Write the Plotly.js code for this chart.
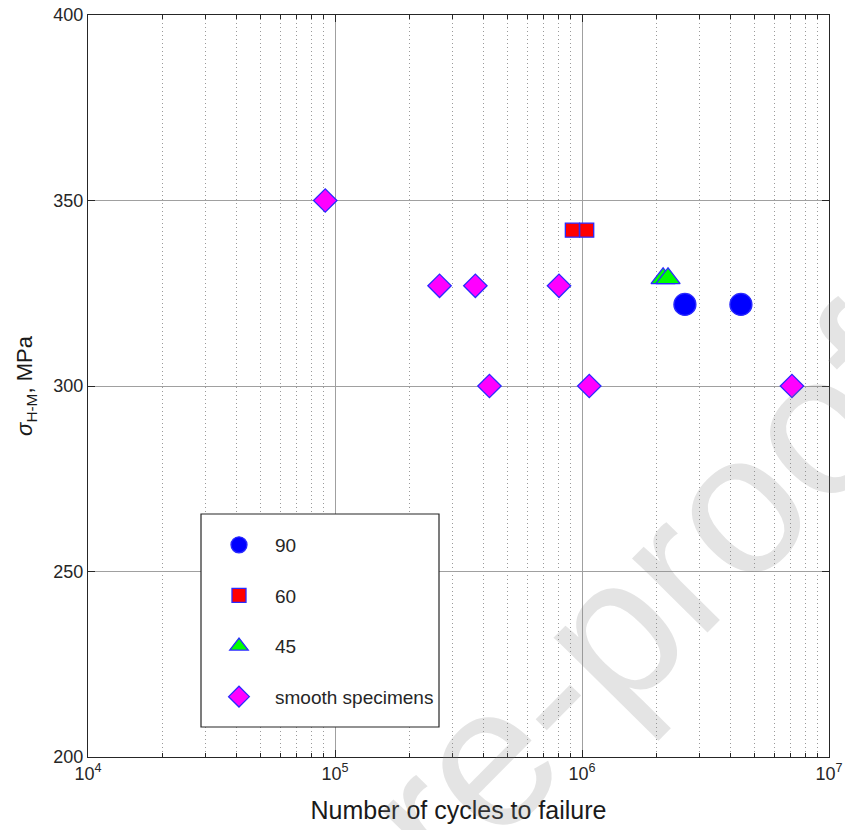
<!DOCTYPE html>
<html>
<head>
<meta charset="utf-8">
<script src="https://cdn.plot.ly/plotly-3.0.1.min.js"></script>
<style>html,body{margin:0;padding:0;background:#fff;}#chart{width:845px;height:830px;}</style>
</head>
<body>
<div id="chart"></div>
<script>
// ---- data ----
const cycles90 = [2.61e6, 4.40e6];
const stress90 = [322, 322];
const cycles60 = [9.14e5, 1.045e6];
const stress60 = [342, 342];
const cycles45 = [2.13e6, 2.23e6];
const stress45 = [329, 329];
const cyclesSmooth = [9.13e4, 2.65e5, 3.70e5, 8.07e5, 4.22e5, 1.07e6, 7.08e6];
const stressSmooth = [350, 327, 327, 327, 300, 300, 300];
const seriesNames = ['90', '60', '45', 'smooth specimens'];
const xTickVals = [1e4, 1e5, 1e6, 1e7];
const xTickText = ['10<sup>4</sup>', '10<sup>5</sup>', '10<sup>6</sup>', '10<sup>7</sup>'];
const yTicks = [200, 250, 300, 350, 400];

const edge = {color: '#2a2aff', width: 1.3};
const traces = [
  {x: cycles90, y: stress90, name: seriesNames[0], legendgroup: 'a', mode: 'markers', type: 'scatter',
   marker: {symbol: 'circle', size: 22, color: '#0000ff', line: edge}},
  {x: cycles60, y: stress60, name: seriesNames[1], legendgroup: 'b', mode: 'markers', type: 'scatter',
   marker: {symbol: 'square', size: 14, color: '#ff0000', line: edge}},
  {x: cycles45, y: stress45, name: seriesNames[2], legendgroup: 'c', mode: 'markers', type: 'scatter',
   marker: {symbol: 'triangle-up', size: 21, color: '#00ff00', line: edge}},
  {x: cyclesSmooth, y: stressSmooth, name: seriesNames[3], legendgroup: 'd', mode: 'markers', type: 'scatter',
   marker: {symbol: 'diamond', size: 18, color: '#ff00ff', line: edge}}
];

const L = 88, R = 829, T = 15, B = 757;
const px = v => (v - L) / (R - L);
const py = v => (B - v) / (B - T);

const axisCommon = {
  showline: true, linecolor: '#262626', linewidth: 1, mirror: 'allticks',
  ticks: 'inside', ticklen: 7, tickcolor: '#262626',
  tickfont: {family: 'Liberation Sans, Arial, sans-serif', size: 18, color: '#262626'},
  gridcolor: '#a0a0a0', gridwidth: 1, zeroline: false, automargin: false
};

const layout = {
  width: 845, height: 830,
  margin: {l: L, r: 845 - R, t: T, b: 830 - B},
  paper_bgcolor: '#ffffff', plot_bgcolor: '#ffffff',
  font: {family: 'Liberation Sans, Arial, sans-serif', color: '#262626'},
  showlegend: true,
  xaxis: Object.assign({}, axisCommon, {
    type: 'log', range: [4, 7], tickmode: 'array', tickvals: xTickVals, ticktext: xTickText,
    showgrid: true,
    minor: {ticks: 'inside', ticklen: 4, tickcolor: '#262626', showgrid: true,
            griddash: '1px,3px', gridcolor: '#9a9a9a', gridwidth: 1, dtick: 'D1'},
    title: {text: 'Number of cycles to failure', font: {size: 25, color: '#1a1a1a'}, standoff: 18}
  }),
  yaxis: Object.assign({}, axisCommon, {
    range: [200, 400], tickvals: yTicks, showgrid: true,
    title: {text: '<i>σ</i><sub>H-M</sub>, MPa', font: {size: 22, color: '#1a1a1a'}, standoff: 14}
  }),
  legend: {
    x: px(203), y: py(526), xanchor: 'left', yanchor: 'top',
    bgcolor: 'rgba(0,0,0,0)', borderwidth: 0,
    font: {size: 19, color: '#262626'},
    itemwidth: 62, tracegroupgap: 22.9, traceorder: 'grouped', itemsizing: 'trace'
  },
  shapes: [{
    type: 'rect', xref: 'paper', yref: 'paper',
    x0: px(201), x1: px(439), y0: py(727), y1: py(514),
    line: {color: '#262626', width: 1.2}, fillcolor: '#ffffff', layer: 'above'
  }],
  annotations: [{
    xref: 'paper', yref: 'paper', x: px(644), y: py(597), xanchor: 'center', yanchor: 'middle',
    text: 're-proof', showarrow: false, textangle: -45.3,
    font: {family: 'Liberation Sans, Arial, sans-serif', size: 200, color: 'rgba(130,130,130,0.22)'}
  }]
};

Plotly.newPlot('chart', traces, layout, {displayModeBar: false, staticPlot: true});
</script>
</body>
</html>
